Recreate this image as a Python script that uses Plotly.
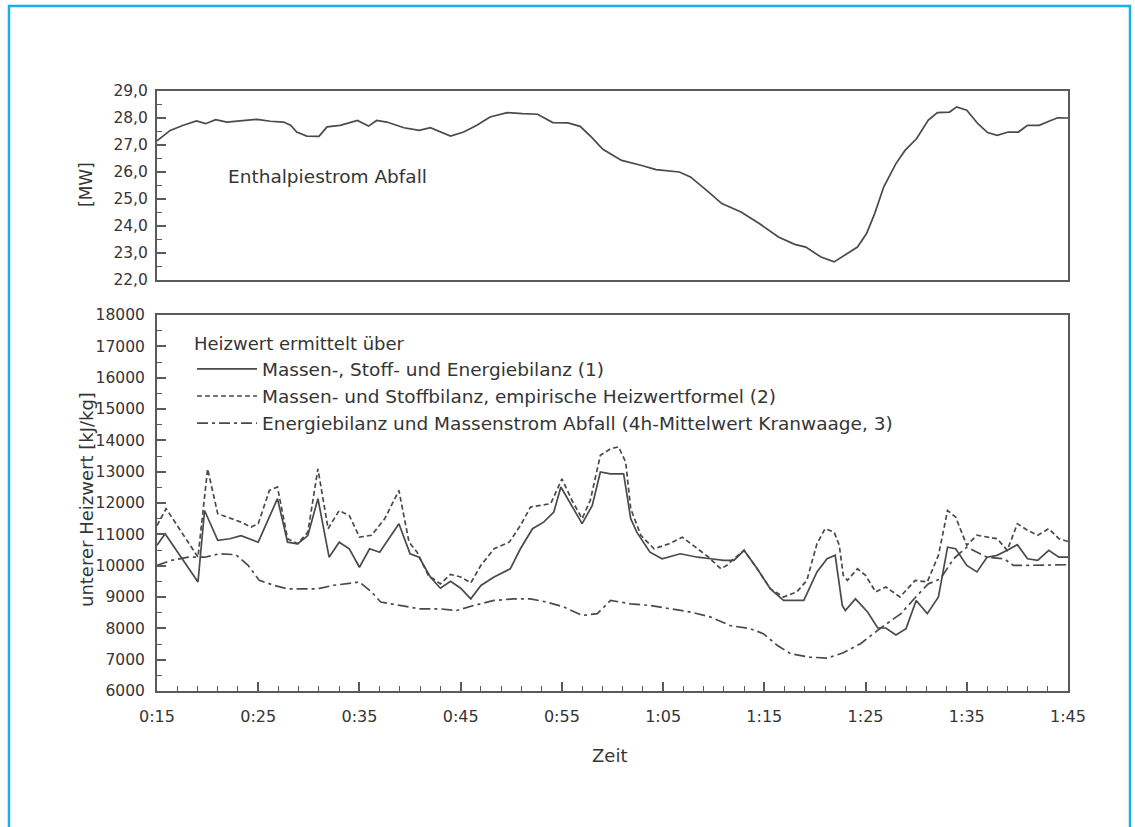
import plotly.graph_objects as go

# --- Enthalpiestrom Abfall [MW] over time (minutes after 0:00) ---
t_enthalpie = [15.0, 15.3, 16.3, 17.6, 18.9, 19.8, 20.8, 21.9, 23.2, 24.9, 26.2, 27.5, 28.2, 28.8,
               29.8, 31.0, 31.8, 33.1, 34.8, 35.9, 36.7, 37.7, 39.4, 40.9, 42.0, 43.0, 44.0, 45.3,
               46.6, 47.9, 49.6, 51.1, 52.6, 54.1, 55.6, 56.8, 57.9, 59.05, 60.9, 62.8, 64.3, 66.6,
               67.7, 69.3, 70.8, 72.7, 74.5, 76.4, 78.0, 79.1, 80.6, 81.9, 82.9, 84.2, 85.1, 85.9,
               86.8, 88.0, 88.9, 90.05, 91.2, 92.1, 93.3, 94.0, 95.0, 96.1, 97.05, 98.0, 99.1,
               100.1, 101.0, 102.15, 103.3, 104.0, 105.0]
mw_enthalpie = [27.15, 27.24, 27.54, 27.73, 27.89, 27.79, 27.94, 27.85, 27.89, 27.95, 27.88, 27.85,
                27.73, 27.48, 27.33, 27.32, 27.67, 27.73, 27.91, 27.70, 27.91, 27.85, 27.64, 27.54,
                27.64, 27.48, 27.33, 27.48, 27.73, 28.04, 28.20, 28.16, 28.14, 27.83, 27.82, 27.69,
                27.30, 26.84, 26.43, 26.25, 26.09, 26.00, 25.82, 25.32, 24.83, 24.52, 24.09, 23.59,
                23.32, 23.22, 22.85, 22.67, 22.91, 23.22, 23.72, 24.46, 25.45, 26.31, 26.80, 27.24,
                27.92, 28.20, 28.22, 28.41, 28.29, 27.79, 27.46, 27.36, 27.48, 27.48, 27.73, 27.73,
                27.91, 28.01, 28.00]

# --- Heizwert (1): Massen-, Stoff- und Energiebilanz [kJ/kg] ---
t_bilanz = [15.0, 15.8, 19.05, 19.7, 21.0, 22.2, 23.3, 25.0, 26.9, 27.9, 28.9, 29.9, 30.9, 32.0,
            33.0, 34.0, 35.0, 36.0, 37.0, 38.9, 40.0, 40.9, 42.0, 43.0, 44.0, 45.0, 46.0, 47.0,
            48.3, 49.9, 50.9, 52.1, 53.2, 54.2, 54.9, 56.0, 57.0, 58.0, 58.8, 59.8, 61.1, 61.8,
            62.4, 63.7, 64.9, 66.7, 68.4, 69.7, 71.0, 72.0, 73.0, 74.3, 75.6, 76.9, 78.9, 80.2,
            81.2, 82.0, 82.7, 83.0, 84.0, 85.2, 86.2, 87.0, 88.0, 89.0, 90.0, 91.1, 92.2, 93.1,
            93.9, 95.0, 96.0, 97.0, 98.0, 99.0, 100.0, 101.0, 102.0, 103.1, 104.1, 105.0]
hw_bilanz = [10650, 11020, 9480, 11760, 10810, 10860, 10960, 10750, 12140, 10750, 10700, 10960,
             12140, 10270, 10750, 10540, 9950, 10540, 10430, 11340, 10380, 10270, 9640, 9280,
             9500, 9280, 8940, 9370, 9640, 9900, 10540, 11180, 11390, 11710, 12510, 11920, 11340,
             11920, 12990, 12930, 12930, 11500, 11070, 10430, 10220, 10380, 10270, 10220, 10170,
             10170, 10490, 9900, 9260, 8890, 8890, 9800, 10220, 10330, 8730, 8570, 8940, 8520,
             8010, 8010, 7790, 7990, 8890, 8470, 9000, 10590, 10540, 10010, 9800, 10270, 10330,
             10490, 10670, 10220, 10170, 10490, 10270, 10270]

# --- Heizwert (2): Massen- und Stoffbilanz, empirische Heizwertformel [kJ/kg] ---
t_formel = [15.0, 15.9, 19.05, 20.0, 21.0, 22.3, 23.3, 24.3, 25.0, 26.1, 26.9, 27.9, 28.9, 29.9,
            30.9, 31.9, 33.0, 34.0, 35.0, 36.2, 37.5, 38.9, 39.9, 40.7, 41.8, 43.0, 44.0, 45.0,
            46.0, 47.0, 48.3, 49.8, 50.9, 51.9, 53.9, 55.0, 56.0, 57.0, 57.8, 58.8, 59.8, 60.6,
            61.3, 61.8, 62.8, 64.1, 65.6, 66.9, 68.4, 69.5, 70.7, 71.3, 71.8, 73.0, 74.3, 75.6,
            76.9, 78.2, 79.2, 80.2, 81.0, 81.9, 82.4, 82.8, 83.2, 84.2, 85.0, 86.0, 87.0, 88.4,
            89.9, 91.1, 92.2, 93.1, 93.9, 95.0, 96.0, 97.2, 98.0, 99.0, 100.0, 101.0, 102.0,
            103.1, 104.1, 105.0]
hw_formel = [11280, 11820, 10270, 13090, 11660, 11500, 11390, 11230, 11340, 12400, 12510, 10860,
             10700, 11070, 13090, 11180, 11760, 11600, 10910, 10970, 11500, 12400, 10750, 10430,
             9690, 9420, 9720, 9640, 9450, 10010, 10540, 10750, 11280, 11870, 11980, 12770,
             12080, 11500, 12080, 13520, 13730, 13790, 13310, 11820, 10970, 10540, 10700, 10910,
             10540, 10270, 9900, 10010, 10170, 10490, 9900, 9260, 9000, 9160, 9530, 10700, 11180,
             11070, 10650, 9690, 9530, 9900, 9690, 9160, 9320, 9000, 9530, 9480, 10330, 11760,
             11550, 10650, 10970, 10910, 10860, 10490, 11340, 11130, 10970, 11180, 10860, 10770]

# --- Heizwert (3): Energiebilanz und Massenstrom Abfall [kJ/kg] ---
t_kranwaage = [15.0, 16.4, 18.1, 19.7, 21.2, 22.8, 24.0, 25.1, 26.6, 27.9, 29.6, 30.9, 32.4, 33.8,
               35.0, 36.2, 37.1, 39.0, 41.0, 43.0, 44.6, 46.3, 48.3, 50.2, 51.9, 53.5, 55.2, 57.0,
               58.5, 59.8, 61.8, 63.7, 65.7, 67.7, 69.7, 71.6, 73.6, 74.9, 76.3, 77.6, 79.5, 81.2,
               82.8, 84.5, 86.5, 88.5, 90.1, 91.2, 92.4, 93.7, 95.0, 97.0, 98.7, 99.6, 101.0,
               103.0, 105.0]
hw_kranwaage = [10010, 10170, 10270, 10270, 10380, 10350, 10010, 9530, 9370, 9260, 9260, 9260,
                9370, 9420, 9480, 9160, 8840, 8730, 8620, 8620, 8570, 8730, 8890, 8940, 8940,
                8840, 8680, 8410, 8470, 8890, 8780, 8730, 8620, 8520, 8360, 8090, 7990, 7830,
                7450, 7190, 7080, 7050, 7220, 7510, 8010, 8470, 9050, 9420, 9580, 10220, 10590,
                10270, 10220, 10010, 10010, 10030, 10030]

# --- axis ticks ---
x_tickvals = [15, 25, 35, 45, 55, 65, 75, 85, 95, 105]
x_ticktext = ["0:15", "0:25", "0:35", "0:45", "0:55", "1:05", "1:15", "1:25", "1:35", "1:45"]

legend_names = [
    "Massen-, Stoff- und Energiebilanz (1)",
    "Massen- und Stoffbilanz, empirische Heizwertformel (2)",
    "Energiebilanz und Massenstrom Abfall (4h-Mittelwert Kranwaage, 3)",
]

FONT = "DejaVu Sans"
INK = "#353535"
AXIS = "#5a5a5a"
LINE = "#4a4a4a"

fig = go.Figure()

fig.add_trace(go.Scatter(x=t_enthalpie, y=mw_enthalpie, mode="lines", xaxis="x2", yaxis="y2",
                         line=dict(color=LINE, width=1.7), showlegend=False))
fig.add_trace(go.Scatter(x=t_bilanz, y=hw_bilanz, mode="lines", name=legend_names[0],
                         line=dict(color=LINE, width=1.7)))
fig.add_trace(go.Scatter(x=t_formel, y=hw_formel, mode="lines", name=legend_names[1],
                         line=dict(color=LINE, width=1.7, dash="5px,3px")))
fig.add_trace(go.Scatter(x=t_kranwaage, y=hw_kranwaage, mode="lines", name=legend_names[2],
                         line=dict(color=LINE, width=1.7, dash="11px,4px,3px,4px")))

W, H = 1135, 827
ML, MR, MT, MB = 157, 67, 91, 136
PW, PH = W - ML - MR, H - MT - MB


def px(x):
    return (x - ML) / PW


def py(y):
    return (H - MB - y) / PH


common_axis = dict(showline=True, linecolor=AXIS, linewidth=2, mirror=True, showgrid=False,
                   zeroline=False, ticks="inside", tickcolor=AXIS, tickwidth=1.5,
                   tickfont=dict(family=FONT, size=16, color=INK))

fig.update_layout(
    width=W, height=H,
    margin=dict(l=ML, r=MR, t=MT, b=MB, pad=0),
    paper_bgcolor="white", plot_bgcolor="white",
    font=dict(family=FONT, size=16, color=INK),
    separators=",.",
    xaxis=dict(common_axis, domain=[0, 1], anchor="y", range=[15, 105],
               tickmode="array", tickvals=x_tickvals, ticktext=x_ticktext, ticklen=9,
               ticklabelstandoff=10,
               minor=dict(tickmode="linear", tick0=15, dtick=2, ticks="inside", ticklen=5,
                          tickcolor=AXIS, tickwidth=1.2)),
    xaxis2=dict(common_axis, domain=[0, 1], anchor="y2", matches="x", range=[15, 105],
                ticks="", showticklabels=False),
    yaxis=dict(common_axis, domain=[0, (691 - 315) / PH], anchor="x", range=[6000, 18000],
               tickmode="linear", tick0=6000, dtick=1000, tickformat="d", ticklen=9,
               ticklabelstandoff=7, tickfont=dict(family=FONT, size=15.5, color=INK),
               minor=dict(tickmode="linear", tick0=6000, dtick=500, ticks="inside", ticklen=5,
                          tickcolor=AXIS, tickwidth=1.2)),
    yaxis2=dict(common_axis, domain=[(691 - 280) / PH, 1], anchor="x2", range=[22, 29],
                tickmode="linear", tick0=22, dtick=1, tickformat=".1f", ticklen=9,
                ticklabelstandoff=4, tickfont=dict(family=FONT, size=15.5, color=INK),
                minor=dict(tickmode="linear", tick0=22, dtick=0.5, ticks="inside", ticklen=5,
                           tickcolor=AXIS, tickwidth=1.2)),
    legend=dict(x=px(192), y=py(327), xanchor="left", yanchor="top",
                bgcolor="rgba(0,0,0,0)", borderwidth=0, itemwidth=60,
                font=dict(family=FONT, size=18.5, color=INK),
                title=dict(text="Heizwert ermittelt über", side="top",
                           font=dict(family=FONT, size=18, color=INK))),
    showlegend=True,
)

# labels
fig.add_annotation(text="Enthalpiestrom Abfall", xref="paper", yref="paper",
                   x=px(226), y=py(176), xanchor="left", yanchor="middle", showarrow=False,
                   font=dict(family=FONT, size=18.5, color=INK))
fig.add_annotation(text="[MW]", xref="paper", yref="paper", x=px(86), y=py(185),
                   textangle=-90, xanchor="center", yanchor="middle", showarrow=False,
                   font=dict(family=FONT, size=17, color=INK))
fig.add_annotation(text="unterer Heizwert [kJ/kg]", xref="paper", yref="paper", x=px(86),
                   y=py(500), textangle=-90, xanchor="center", yanchor="middle", showarrow=False,
                   font=dict(family=FONT, size=18, color=INK))
fig.add_annotation(text="Zeit", xref="paper", yref="paper", x=px(609), y=py(755),
                   xanchor="center", yanchor="middle", showarrow=False,
                   font=dict(family=FONT, size=18, color=INK))

# page frame
fig.add_shape(type="path", xref="paper", yref="paper",
              path=f"M {px(9)},{py(840)} L {px(9)},{py(6)} L {px(1130)},{py(6)} L {px(1130)},{py(840)}",
              line=dict(color="#1aaee9", width=2.5))

fig.write_html("out.html")
